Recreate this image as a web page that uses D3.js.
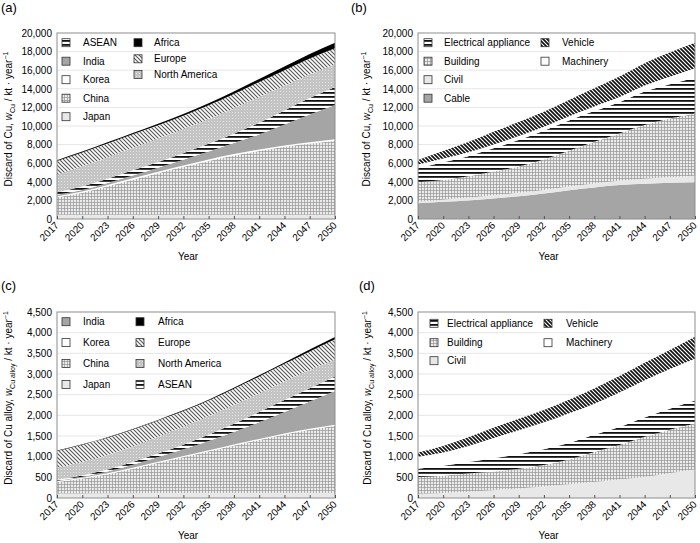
<!DOCTYPE html>
<html lang="en">
<head>
<meta charset="utf-8">
<title>Discard of Cu and Cu alloy</title>
<script src="https://cdn.jsdelivr.net/npm/d3@7"></script>
<style>
  body { margin: 0; background: #fff; }
  svg text { font-family: "Liberation Sans", Arial, sans-serif; }
</style>
</head>
<body>
<div id="chart"></div>
<script>
// years on the x axis
const years = [2017, 2020, 2023, 2026, 2029, 2032, 2035, 2038, 2041, 2044, 2047, 2050];

// (a) discard of Cu by region, kt / year
const japanCu        = [450, 450, 460, 460, 470, 470, 470, 470, 460, 460, 450, 450];
const chinaCu        = [1880, 2370, 3050, 3760, 4460, 5140, 5780, 6360, 6860, 7300, 7660, 7970];
const koreaCu        = [120, 130, 140, 150, 150, 150, 150, 150, 150, 150, 150, 150];
const indiaCu        = [150, 170, 220, 310, 440, 620, 860, 1180, 1620, 2250, 2980, 3690];
const aseanCu        = [280, 380, 470, 550, 620, 700, 820, 1000, 1250, 1520, 1760, 1940];
const northAmericaCu = [1850, 2140, 2300, 2420, 2520, 2600, 2680, 2740, 2790, 2660, 2550, 2400];
const europeCu       = [1500, 1500, 1480, 1450, 1420, 1420, 1460, 1530, 1600, 1660, 1700, 1750];
const africaCu       = [100, 110, 130, 150, 170, 200, 230, 270, 320, 400, 500, 600];

// (b) discard of Cu by end use
const cableCu     = [1700, 1850, 2000, 2200, 2450, 2750, 3100, 3400, 3650, 3800, 3900, 3950];
const civilCu     = [150, 220, 300, 350, 370, 380, 400, 420, 450, 520, 600, 700];
const buildingCu  = [2100, 2130, 2300, 2550, 2830, 3270, 3850, 4480, 5100, 5780, 6300, 6700];
const applianceCu = [1500, 1900, 2150, 2500, 2850, 3100, 3250, 3300, 3350, 3600, 3700, 3850];
const machineryCu = [400, 400, 420, 420, 420, 430, 450, 500, 560, 650, 800, 1000];
const vehicleCu   = [500, 800, 1100, 1350, 1500, 1600, 1750, 1950, 2200, 2400, 2600, 2750];

// (c) discard of Cu alloy by region
const japanAlloy        = [110, 110, 115, 115, 120, 120, 120, 120, 120, 120, 120, 120];
const chinaAlloy        = [280, 360, 460, 590, 730, 870, 1010, 1150, 1285, 1415, 1530, 1625];
const koreaAlloy        = [20, 22, 24, 25, 25, 25, 25, 25, 25, 25, 25, 25];
const indiaAlloy        = [10, 25, 45, 75, 115, 165, 225, 300, 400, 520, 660, 820];
const aseanAlloy        = [20, 30, 45, 65, 85, 110, 150, 200, 250, 290, 320, 350];
const northAmericaAlloy = [290, 323, 354, 381, 409, 432, 445, 455, 450, 450, 440, 410];
const europeAlloy       = [410, 420, 415, 405, 390, 380, 385, 395, 410, 425, 450, 490];
const africaAlloy       = [10, 10, 12, 14, 16, 18, 20, 25, 30, 35, 45, 55];

// (d) discard of Cu alloy by end use
const civilAlloy     = [100, 120, 150, 190, 230, 280, 330, 390, 450, 510, 600, 690];
const buildingAlloy  = [410, 420, 440, 450, 480, 520, 600, 720, 830, 970, 1050, 1110];
const applianceAlloy = [200, 240, 280, 320, 350, 380, 400, 420, 440, 470, 510, 560];
const machineryAlloy = [290, 320, 390, 490, 580, 650, 720, 750, 830, 900, 960, 1010];
const vehicleAlloy   = [100, 160, 210, 250, 280, 300, 330, 370, 400, 420, 460, 530];

const svg = d3.select("#chart").append("svg")
  .attr("width", 700)
  .attr("height", 543);

// fill patterns
const defs = svg.append("defs");

const cross = defs.append("pattern").attr("id", "cross")
  .attr("patternUnits", "userSpaceOnUse").attr("width", 3).attr("height", 3);
cross.append("rect").attr("width", 3).attr("height", 3).attr("fill", "#f6f6f6");
cross.append("path").attr("d", "M1.5,0L3,1.5L1.5,3L0,1.5Z").attr("fill", "#9a9a9a");

const hstripe = defs.append("pattern").attr("id", "hstripe")
  .attr("patternUnits", "userSpaceOnUse").attr("width", 4).attr("height", 4);
hstripe.append("rect").attr("width", 4).attr("height", 4).attr("fill", "#fff");
hstripe.append("rect").attr("width", 4).attr("height", 1.8).attr("fill", "#111");

const dots = defs.append("pattern").attr("id", "dots")
  .attr("patternUnits", "userSpaceOnUse").attr("width", 3).attr("height", 3);
dots.append("rect").attr("width", 3).attr("height", 3).attr("fill", "#c4c4c4");
dots.append("rect").attr("x", 1).attr("y", 1).attr("width", 1).attr("height", 1).attr("fill", "#e4e4e4");

function diag(id, color, w) {
  const p = defs.append("pattern").attr("id", id)
    .attr("patternUnits", "userSpaceOnUse").attr("width", 4).attr("height", 4);
  p.append("rect").attr("width", 4).attr("height", 4).attr("fill", "#fff");
  p.append("path").attr("d", "M-1,-1L5,5M-1,3L1,5M3,-1L5,1")
    .attr("stroke", color).attr("stroke-width", w);
}
diag("diagLight", "#555", 1.1);
diag("diagDark", "#111", 1.7);

const fill = {
  japan: "#e8e8e8", china: "url(#cross)", korea: "#fff", india: "#a5a5a5",
  asean: "url(#hstripe)", northAmerica: "url(#dots)", europe: "url(#diagLight)", africa: "#000",
  cable: "#a5a5a5", civil: "#e8e8e8", building: "url(#cross)", appliance: "url(#hstripe)",
  machinery: "#fff", vehicle: "url(#diagDark)"
};

const panels = [
  {
    label: "(a)", lx: 1, ly: 12, left: 57, top: 33, w: 278, h: 186,
    yMax: 20000, yStep: 2000, alloy: false, titleX: 12,
    layers: [
      { name: "Japan", values: japanCu, fill: fill.japan },
      { name: "China", values: chinaCu, fill: fill.china },
      { name: "Korea", values: koreaCu, fill: fill.korea },
      { name: "India", values: indiaCu, fill: fill.india },
      { name: "ASEAN", values: aseanCu, fill: fill.asean },
      { name: "North America", values: northAmericaCu, fill: fill.northAmerica },
      { name: "Europe", values: europeCu, fill: fill.europe },
      { name: "Africa", values: africaCu, fill: fill.africa }
    ],
    legend: [
      { sx: 5, tx: 26, rows: [9.7, 28.2, 46.7, 65.2, 83.7], names: ["ASEAN", "India", "Korea", "China", "Japan"] },
      { sx: 77, tx: 97, rows: [9.7, 25.8, 41.5], names: ["Africa", "Europe", "North America"] }
    ]
  },
  {
    label: "(b)", lx: 351, ly: 12, left: 418, top: 33, w: 277, h: 186,
    yMax: 20000, yStep: 2000, alloy: false, titleX: 370,
    layers: [
      { name: "Cable", values: cableCu, fill: fill.cable },
      { name: "Civil", values: civilCu, fill: fill.civil },
      { name: "Building", values: buildingCu, fill: fill.building },
      { name: "Electrical appliance", values: applianceCu, fill: fill.appliance },
      { name: "Machinery", values: machineryCu, fill: fill.machinery },
      { name: "Vehicle", values: vehicleCu, fill: fill.vehicle }
    ],
    legend: [
      { sx: 6, tx: 26, rows: [9.7, 28.2, 46.7, 65.2], names: ["Electrical appliance", "Building", "Civil", "Cable"] },
      { sx: 123, tx: 144, rows: [9.7, 28.2], names: ["Vehicle", "Machinery"] }
    ]
  },
  {
    label: "(c)", lx: 1, ly: 290, left: 57, top: 312, w: 278, h: 186,
    yMax: 4500, yStep: 500, alloy: true, titleX: 12,
    layers: [
      { name: "Japan", values: japanAlloy, fill: fill.japan },
      { name: "China", values: chinaAlloy, fill: fill.china },
      { name: "Korea", values: koreaAlloy, fill: fill.korea },
      { name: "India", values: indiaAlloy, fill: fill.india },
      { name: "ASEAN", values: aseanAlloy, fill: fill.asean },
      { name: "North America", values: northAmericaAlloy, fill: fill.northAmerica },
      { name: "Europe", values: europeAlloy, fill: fill.europe },
      { name: "Africa", values: africaAlloy, fill: fill.africa }
    ],
    legend: [
      { sx: 5, tx: 26, rows: [9.7, 30.6, 51.5, 72.4], names: ["India", "Korea", "China", "Japan"] },
      { sx: 79, tx: 101, rows: [9.7, 30.6, 51.5, 72.4], names: ["Africa", "Europe", "North America", "ASEAN"] }
    ]
  },
  {
    label: "(d)", lx: 359, ly: 290, left: 418, top: 312, w: 277, h: 186,
    yMax: 4500, yStep: 500, alloy: true, titleX: 371,
    layers: [
      { name: "Civil", values: civilAlloy, fill: fill.civil },
      { name: "Building", values: buildingAlloy, fill: fill.building },
      { name: "Electrical appliance", values: applianceAlloy, fill: fill.appliance },
      { name: "Machinery", values: machineryAlloy, fill: fill.machinery },
      { name: "Vehicle", values: vehicleAlloy, fill: fill.vehicle }
    ],
    legend: [
      { sx: 12, tx: 29, rows: [11.3, 30.7, 48.7], names: ["Electrical appliance", "Building", "Civil"] },
      { sx: 126, tx: 148, rows: [11.3, 30.7], names: ["Vehicle", "Machinery"] }
    ]
  }
];

function drawPanel(p) {
  const g = svg.append("g");
  const bottom = p.top + p.h;

  const x = d3.scaleLinear()
    .domain([years[0], years[years.length - 1]])
    .range([p.left, p.left + p.w]);
  const y = d3.scaleLinear()
    .domain([0, p.yMax])
    .range([bottom, p.top]);
  const yTicks = d3.range(0, p.yMax + 1, p.yStep);

  // grid lines
  g.append("g").selectAll("line")
    .data(yTicks.slice(1, -1))
    .join("line")
    .attr("x1", p.left).attr("x2", p.left + p.w)
    .attr("y1", d => y(d)).attr("y2", d => y(d))
    .attr("stroke", "#e6e6e6");

  // stacked areas
  const rows = years.map((yr, i) => {
    const o = { year: yr };
    p.layers.forEach(l => { o[l.name] = l.values[i]; });
    return o;
  });
  const series = d3.stack().keys(p.layers.map(l => l.name))(rows);
  const area = d3.area()
    .x(d => x(d.data.year))
    .y0(d => y(d[0]))
    .y1(d => y(d[1]))
    .curve(d3.curveMonotoneX);
  g.append("g").selectAll("path")
    .data(series)
    .join("path")
    .attr("d", area)
    .attr("fill", (d, i) => p.layers[i].fill);

  // frame
  g.append("rect")
    .attr("x", p.left).attr("y", p.top)
    .attr("width", p.w).attr("height", p.h)
    .attr("fill", "none").attr("stroke", "#8e8e8e");

  // x axis: inward ticks, rotated labels
  const xAxis = d3.axisBottom(x).tickValues(years).tickSize(-3).tickFormat(d3.format("d"));
  g.append("g")
    .attr("transform", `translate(0,${bottom})`)
    .call(xAxis)
    .call(s => s.select(".domain").remove())
    .call(s => s.selectAll("line").attr("stroke", "#555"))
    .call(s => s.selectAll("text")
      .attr("y", 0).attr("dy", 0)
      .attr("transform", "translate(2,7) rotate(-45)")
      .attr("text-anchor", "end")
      .attr("font-size", 10)
      .attr("font-family", '"Liberation Sans", Arial, sans-serif')
      .attr("fill", "#000"));

  // y axis
  const yAxis = d3.axisLeft(y).tickValues(yTicks).tickSize(0).tickPadding(5).tickFormat(d3.format(","));
  g.append("g")
    .attr("transform", `translate(${p.left},0)`)
    .call(yAxis)
    .call(s => s.select(".domain").remove())
    .call(s => s.selectAll("text")
      .attr("font-size", 10)
      .attr("font-family", '"Liberation Sans", Arial, sans-serif')
      .attr("fill", "#000"));

  // axis titles
  g.append("text")
    .attr("x", p.left + p.w / 2 - 8)
    .attr("y", bottom + 41)
    .attr("text-anchor", "middle")
    .attr("font-size", 10)
    .text("Year");

  const t = g.append("text")
    .attr("transform", `translate(${p.titleX},${p.top + p.h / 2 - 7}) rotate(-90)`)
    .attr("text-anchor", "middle")
    .attr("font-size", 10);
  t.append("tspan").text(p.alloy ? "Discard of Cu alloy, " : "Discard of Cu, ");
  t.append("tspan").attr("font-style", "italic").text("w");
  t.append("tspan").attr("font-size", 7).attr("dy", 2.5).text(p.alloy ? "Cu alloy" : "Cu");
  t.append("tspan").attr("dy", -2.5).text(" / kt \u00b7 year");
  t.append("tspan").attr("font-size", 7).attr("dy", -4).text("\u22121");

  // panel letter
  svg.append("text")
    .attr("x", p.lx).attr("y", p.ly)
    .attr("font-size", 13)
    .text(p.label);

  // legend
  const fillOf = name => p.layers.find(l => l.name === name).fill;
  p.legend.forEach(col => {
    col.names.forEach((name, i) => {
      const cy = p.top + col.rows[i];
      g.append("rect")
        .attr("x", p.left + col.sx).attr("y", cy - 4)
        .attr("width", 8).attr("height", 8)
        .attr("fill", fillOf(name))
        .attr("stroke", "#333").attr("stroke-width", 0.8);
      g.append("text")
        .attr("x", p.left + col.tx).attr("y", cy + 3.6)
        .attr("font-size", 10)
        .text(name);
    });
  });
}

panels.forEach(drawPanel);
</script>
</body>
</html>
